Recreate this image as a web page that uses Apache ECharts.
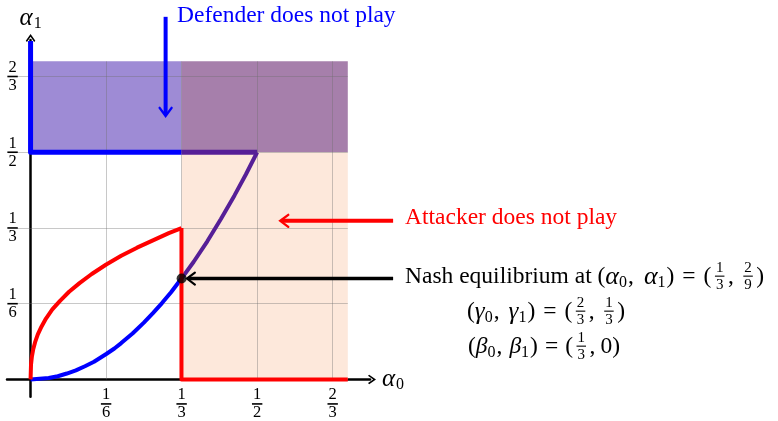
<!DOCTYPE html>
<html><head><meta charset="utf-8">
<script src="https://cdn.jsdelivr.net/npm/echarts@6/dist/echarts.min.js"></script>
<style>html,body{margin:0;padding:0;background:#fff}#c{width:778px;height:421px}</style>
</head><body><div id="c"></div>
<script>
// ---- data ----
const tickValues = [1/6, 1/3, 1/2, 2/3];
const tickNum = ['1', '1', '1', '2'];
const tickDen = ['6', '3', '2', '3'];

const redCurveX = [0, 0.001, 0.003, 0.006, 0.01, 0.016, 0.024, 0.034, 0.048, 0.065, 0.085, 0.108, 0.135, 0.167, 0.2, 0.235, 0.27, 0.305, 0.333];
const redCurveY = [0, 0.033, 0.051, 0.067, 0.082, 0.099, 0.116, 0.134, 0.154, 0.173, 0.193, 0.212, 0.232, 0.253, 0.272, 0.29, 0.306, 0.322, 0.333];
const redBoundaryX = [0.333, 0.333, 0.7];
const redBoundaryY = [0.333, 0, 0];

const blueCurveX = [0, 0.04, 0.06, 0.08, 0.1, 0.12, 0.14, 0.167, 0.185, 0.2, 0.225, 0.25, 0.27, 0.29, 0.31, 0.333];
const blueCurveY = [0, 0.003, 0.007, 0.013, 0.02, 0.029, 0.039, 0.056, 0.068, 0.08, 0.101, 0.125, 0.146, 0.168, 0.192, 0.222];
const blueBoundaryX = [0, 0, 0.333];
const blueBoundaryY = [0.745, 0.5, 0.5];

const purpleCurveX = [0.333, 0.36, 0.39, 0.42, 0.45, 0.475, 0.5];
const purpleCurveY = [0.222, 0.259, 0.304, 0.353, 0.405, 0.451, 0.5];
const purpleBoundaryX = [0.333, 0.5];
const purpleBoundaryY = [0.5, 0.5];

const nashPoint = [1/3, 2/9];

// regions: [x0, y0, x1, y1]
const defenderOnlyRegion = [0, 0.5, 1/3, 0.7];
const bothRegion = [1/3, 0.5, 0.7, 0.7];
const attackerRegion = [1/3, 0, 0.7, 0.5];
const gridExtent = [0, 0.7];

// annotation arrows [x0, y0, x1, y1] in data units
const annotationArrows = [
  [0.298, 0.798, 0.298, 0.58],
  [0.80, 0.349, 0.551, 0.349],
  [0.80, 0.222, 0.345, 0.222]
];
const arrowColors = ['#0000ff', '#ff0000', '#000000'];
const arrowWidths = [4, 4, 3.5];

// ---- helpers ----
const zip = (xs, ys) => xs.map((x, i) => [x, ys[i]]);
const SERIF = '"Liberation Serif", "Times New Roman", serif';
const CHEVRON = 'path://M5,0 L10,7.2 L8.8,8.4 L5,3 L1.2,8.4 L0,7.2 Z';
const TICK_FONT = 'normal 16.5px ' + SERIF;

function fracGroup(num, den, cx, cy) {
  return {
    type: 'group',
    children: [
      { type: 'text', x: cx, y: cy - 8.8, style: { text: num, font: TICK_FONT, fill: '#000', textAlign: 'center', textVerticalAlign: 'middle' } },
      { type: 'rect', shape: { x: cx - 5.2, y: cy - 0.8, width: 10.4, height: 1.6 }, style: { fill: '#000' } },
      { type: 'text', x: cx, y: cy + 9, style: { text: den, font: TICK_FONT, fill: '#000', textAlign: 'center', textVerticalAlign: 'middle' } }
    ]
  };
}

const mctx = document.createElement('canvas').getContext('2d');
function tw(text, font) { mctx.font = font; return mctx.measureText(text).width; }
const MAIN = 23.5, SUB = 16, FR = 15;
function mathLine(parts, x, y, color) {
  const els = [];
  let cx = x;
  for (const p of parts) {
    if (p[0] === 'sp') { cx += p[1]; continue; }
    if (p[0] === 't' || p[0] === 'i') {
      const size = p[2] || MAIN;
      const font = (p[0] === 'i' ? 'italic ' : 'normal ') + size + 'px ' + SERIF;
      els.push({ type: 'text', x: cx, y: y, style: { text: p[1], font: font, fill: color, textAlign: 'left', textVerticalAlign: 'middle' } });
      cx += tw(p[1], font);
    } else if (p[0] === 'sub') {
      const font = 'normal ' + SUB + 'px ' + SERIF;
      els.push({ type: 'text', x: cx, y: y + 6, style: { text: p[1], font: font, fill: color, textAlign: 'left', textVerticalAlign: 'middle' } });
      cx += tw(p[1], font) + 1;
    } else if (p[0] === 'frac') {
      const font = 'normal ' + FR + 'px ' + SERIF;
      const wd = Math.max(tw(p[1], font), tw(p[2], font)) + 2;
      cx += 3.5;
      const mid = cx + wd / 2;
      els.push({ type: 'text', x: mid, y: y - 8.5, style: { text: p[1], font: font, fill: color, textAlign: 'center', textVerticalAlign: 'middle' } });
      els.push({ type: 'rect', shape: { x: cx, y: y - 1.4, width: wd, height: 1.1 }, style: { fill: color } });
      els.push({ type: 'text', x: mid, y: y + 8.5, style: { text: p[2], font: font, fill: color, textAlign: 'center', textVerticalAlign: 'middle' } });
      cx += wd + 3.5;
    }
  }
  return els;
}

const chart = echarts.init(document.getElementById('c'), null, { renderer: 'canvas' });

const gridLines = [];
tickValues.forEach(v => {
  gridLines.push([{ coord: [v, gridExtent[0]] }, { coord: [v, gridExtent[1]] }]);
  gridLines.push([{ coord: [-0.03, v] }, { coord: [gridExtent[1], v] }]);
});

const region = (r, color) => [{ coord: [r[0], r[1]], itemStyle: { color: color } }, { coord: [r[2], r[3]] }];

const lineSeries = (data, color, width, z) => ({
  type: 'line', data: data, showSymbol: false, symbol: 'none', smooth: false,
  lineStyle: { color: color, width: width, cap: 'butt', join: 'round' }, z: z, silent: true, animation: false, clip: false
});

function renderArrow(params, api) {
  const i = params.dataIndex;
  const p0 = api.coord([api.value(0), api.value(1)]);
  const p1 = api.coord([api.value(2), api.value(3)]);
  const dx = p1[0] - p0[0], dy = p1[1] - p0[1];
  const len = Math.sqrt(dx * dx + dy * dy);
  const ux = dx / len, uy = dy / len, nx = -uy, ny = ux;
  const L = 8, W = 6;
  const color = arrowColors[i], lw = arrowWidths[i];
  return {
    type: 'group',
    children: [
      { type: 'line', shape: { x1: p0[0], y1: p0[1], x2: p1[0] - ux * 1.5, y2: p1[1] - uy * 1.5 }, style: { stroke: color, lineWidth: lw } },
      { type: 'polyline', shape: { points: [[p1[0] - ux * L + nx * W, p1[1] - uy * L + ny * W], [p1[0], p1[1]], [p1[0] - ux * L - nx * W, p1[1] - uy * L - ny * W]] },
        style: { stroke: color, lineWidth: lw * 0.6, fill: null, lineJoin: 'miter', lineCap: 'round' } }
    ]
  };
}

const axisNameRich = {
  a: { fontFamily: SERIF, fontStyle: 'italic', fontSize: 25, color: '#000' },
  s: { fontFamily: SERIF, fontSize: 16, color: '#000', verticalAlign: 'top', padding: [11, 0, 0, 1] }
};

const option = {
  animation: false,
  backgroundColor: '#fff',
  grid: { left: 7, right: 408, top: 40, bottom: 24.3, containLabel: false, outerBoundsMode: 'none' },
  xAxis: {
    type: 'value', min: -0.052, max: 0.749,
    axisLine: { onZero: true, lineStyle: { color: '#000', width: 2.5 }, symbol: ['none', CHEVRON], symbolSize: [10, 8], symbolOffset: [0, 2] },
    axisTick: { show: false }, splitLine: { show: false }, axisLabel: { show: false },
    name: '{a|α}{s|0}', nameLocation: 'end', nameGap: 12, nameTextStyle: { rich: axisNameRich }
  },
  yAxis: {
    type: 'value', min: -0.038, max: 0.747,
    axisLine: { onZero: true, lineStyle: { color: '#000', width: 2.5 }, symbol: ['none', CHEVRON], symbolSize: [10, 8], symbolOffset: [0, 2] },
    axisTick: { show: false }, splitLine: { show: false }, axisLabel: { show: false },
    name: '{a|α}{s|1}', nameLocation: 'end', nameGap: 8, nameTextStyle: { rich: axisNameRich }
  },
  series: [
    {
      type: 'line', data: [], z: 1, silent: true, clip: false,
      markArea: {
        silent: true, z: 1,
        data: [region(defenderOnlyRegion, '#9e8bd5'), region(bothRegion, '#a67fab'), region(attackerRegion, '#fde8db')]
      },
      markLine: {
        silent: true, z: 2, symbol: ['none', 'none'], label: { show: false },
        lineStyle: { color: 'rgba(110,110,110,0.38)', width: 1, type: 'solid' },
        data: gridLines
      }
    },
    lineSeries(zip(blueCurveX, blueCurveY), '#0000ff', 4, 10),
    lineSeries(zip(blueBoundaryX, blueBoundaryY), '#0000ff', 5, 10),
    lineSeries(zip(purpleCurveX, purpleCurveY), '#561f97', 4, 10),
    lineSeries(zip(purpleBoundaryX, purpleBoundaryY), '#561f97', 5, 10),
    lineSeries(zip(redCurveX, redCurveY), '#ff0000', 4, 11),
    lineSeries(zip(redBoundaryX, redBoundaryY), '#ff0000', 4, 11),
    {
      type: 'custom', coordinateSystem: 'cartesian2d', clip: false, z: 12, silent: true,
      data: annotationArrows, encode: { x: [0, 2], y: [1, 3] },
      renderItem: renderArrow
    },
    {
      type: 'scatter', data: [nashPoint], symbol: 'circle', symbolSize: 10, z: 13, silent: true,
      itemStyle: { color: '#000' }
    },
    {
      // x tick labels (fractions) placed on the x scale
      type: 'custom', coordinateSystem: 'cartesian2d', clip: false, z: 14, silent: true,
      data: tickValues.map((v, i) => [v, 0, i]),
      renderItem: (params, api) => {
        const p = api.coord([api.value(0), api.value(1)]);
        const i = api.value(2);
        return fracGroup(tickNum[i], tickDen[i], p[0], p[1] + 24.5);
      }
    },
    {
      // y tick labels (fractions) placed on the y scale
      type: 'custom', coordinateSystem: 'cartesian2d', clip: false, z: 14, silent: true,
      data: tickValues.map((v, i) => [0, v, i]),
      renderItem: (params, api) => {
        const p = api.coord([api.value(0), api.value(1)]);
        const i = api.value(2);
        return fracGroup(tickNum[i], tickDen[i], p[0] - 18, p[1]);
      }
    }
  ],
  graphic: [
    { type: 'text', x: 177, y: 16, style: { text: 'Defender does not play', font: 'normal ' + MAIN + 'px ' + SERIF, fill: '#0000ff', textAlign: 'left', textVerticalAlign: 'middle' } },
    { type: 'text', x: 405, y: 218, style: { text: 'Attacker does not play', font: 'normal ' + MAIN + 'px ' + SERIF, fill: '#ff0000', textAlign: 'left', textVerticalAlign: 'middle' } },
    { type: 'group', children: mathLine([['t', 'Nash equilibrium at ('], ['i', 'α', 26], ['sub', '0'], ['t', ','], ['sp', 10], ['i', 'α', 26], ['sub', '1'], ['t', ')'], ['sp', 8], ['t', '='], ['sp', 8], ['t', '('], ['frac', '1', '3'], ['t', ','], ['sp', 6], ['frac', '2', '9'], ['t', ')']], 405, 277, '#000') },
    { type: 'group', children: mathLine([['t', '('], ['i', 'γ', 25], ['sub', '0'], ['t', ','], ['sp', 9], ['i', 'γ', 25], ['sub', '1'], ['t', ')'], ['sp', 8], ['t', '='], ['sp', 8], ['t', '('], ['frac', '2', '3'], ['t', ','], ['sp', 6], ['frac', '1', '3'], ['t', ')']], 467, 312, '#000') },
    { type: 'group', children: mathLine([['t', '('], ['i', 'β'], ['sub', '0'], ['t', ','], ['sp', 7], ['i', 'β'], ['sub', '1'], ['t', ')'], ['sp', 7], ['t', '='], ['sp', 7], ['t', '('], ['frac', '1', '3'], ['t', ','], ['sp', 5], ['t', '0)']], 468, 347, '#000') }
  ]
};
chart.setOption(option);
</script>
</body></html>
